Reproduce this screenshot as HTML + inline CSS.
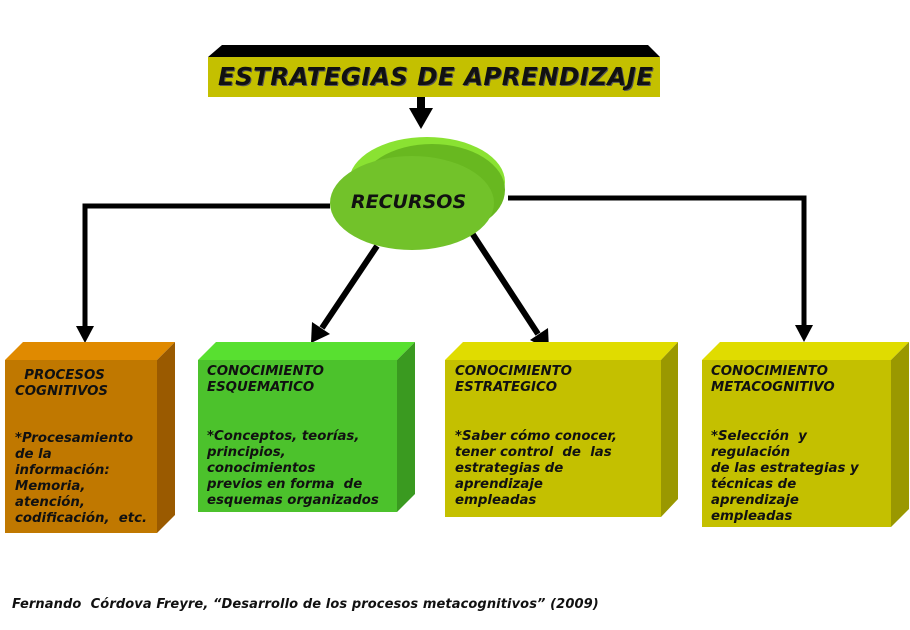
<!DOCTYPE html>
<html><head><meta charset="utf-8"><style>
body{margin:0;width:910px;height:630px;background:#fff;position:relative;overflow:hidden;font-family:"DejaVu Sans","Liberation Sans",sans-serif}
.t{position:absolute;font-weight:bold;font-style:italic;font-size:13.3px;line-height:15.5px;color:#111;white-space:pre}
</style></head><body>
<svg width="910" height="630" style="position:absolute;left:0;top:0">
<!-- title -->
<polygon points="208,57 222,45 648,45 660,57" fill="#000"/>
<rect x="208" y="57" width="452" height="40" fill="#c4c000"/>
<rect x="417" y="97" width="8" height="12" fill="#000"/>
<polygon points="409,108 433,108 421,129" fill="#000"/>
<!-- lines -->
<polyline points="330,206 85,206 85,328" fill="none" stroke="#000" stroke-width="5"/>
<polygon points="76,326 94,326 85,343" fill="#000"/>
<polyline points="508,198 804,198 804,327" fill="none" stroke="#000" stroke-width="5"/>
<polygon points="795,325 813,325 804,342" fill="#000"/>
<line x1="377" y1="246" x2="322" y2="328" stroke="#000" stroke-width="6"/>
<polygon points="312,322 330,334 311,343" fill="#000"/>
<line x1="470" y1="230" x2="538" y2="334" stroke="#000" stroke-width="6"/>
<polygon points="530,340 548,328 549,350" fill="#000"/>
<!-- ellipse -->
<ellipse cx="427" cy="182" rx="78" ry="45" fill="#8ae232"/>
<ellipse cx="432" cy="190" rx="73" ry="46" fill="#68b820"/>
<ellipse cx="412" cy="203" rx="82" ry="47" fill="#72c22a"/>
<!-- box1 -->
<polygon points="5,360 23,342 175,342 157,360" fill="#e08a00"/>
<polygon points="157,360 175,342 175,515 157,533" fill="#9a5a00"/>
<rect x="5" y="360" width="152" height="173" fill="#c07800"/>
<!-- box2 -->
<polygon points="198,360 216,342 415,342 397,360" fill="#58e030"/>
<polygon points="397,360 415,342 415,494 397,512" fill="#3a9a20"/>
<rect x="198" y="360" width="199" height="152" fill="#4cc22c"/>
<!-- box3 -->
<polygon points="445,360 463,342 678,342 661,360" fill="#e0dc00"/>
<polygon points="661,360 678,342 678,499 661,517" fill="#9a9800"/>
<rect x="445" y="360" width="216" height="157" fill="#c4c000"/>
<!-- box4 -->
<polygon points="702,360 720,342 909,342 891,360" fill="#e0dc00"/>
<polygon points="891,360 909,342 909,509 891,527" fill="#9a9800"/>
<rect x="702" y="360" width="189" height="167" fill="#c4c000"/>
</svg>
<div class="t" style="left:218px;top:62px;font-size:24.5px;line-height:30px;letter-spacing:0.4px;text-shadow:1px 1px 0 #555">ESTRATEGIAS DE APRENDIZAJE</div>
<div class="t" style="left:351px;top:191px;font-size:19px;line-height:22px">RECURSOS</div>
<div class="t" style="left:15px;top:368px">  PROCESOS
COGNITIVOS</div>
<div class="t" style="left:15px;top:431px;line-height:16px">*Procesamiento
de la
información:
Memoria,
atención,
codificación,  etc.</div>
<div class="t" style="left:207px;top:364px">CONOCIMIENTO
ESQUEMATICO</div>
<div class="t" style="left:207px;top:429px;line-height:16px">*Conceptos, teorías,
principios,
conocimientos
previos en forma  de
esquemas organizados</div>
<div class="t" style="left:455px;top:364px">CONOCIMIENTO
ESTRATEGICO</div>
<div class="t" style="left:455px;top:429px;line-height:16px">*Saber cómo conocer,
tener control  de  las
estrategias de
aprendizaje
empleadas</div>
<div class="t" style="left:711px;top:364px">CONOCIMIENTO
METACOGNITIVO</div>
<div class="t" style="left:711px;top:429px;line-height:16px">*Selección  y
regulación
de las estrategias y
técnicas de
aprendizaje
empleadas</div>
<div class="t" style="left:12px;top:597px;font-size:13px;letter-spacing:0.1px">Fernando  Córdova Freyre, “Desarrollo de los procesos metacognitivos” (2009)</div>
</body></html>
